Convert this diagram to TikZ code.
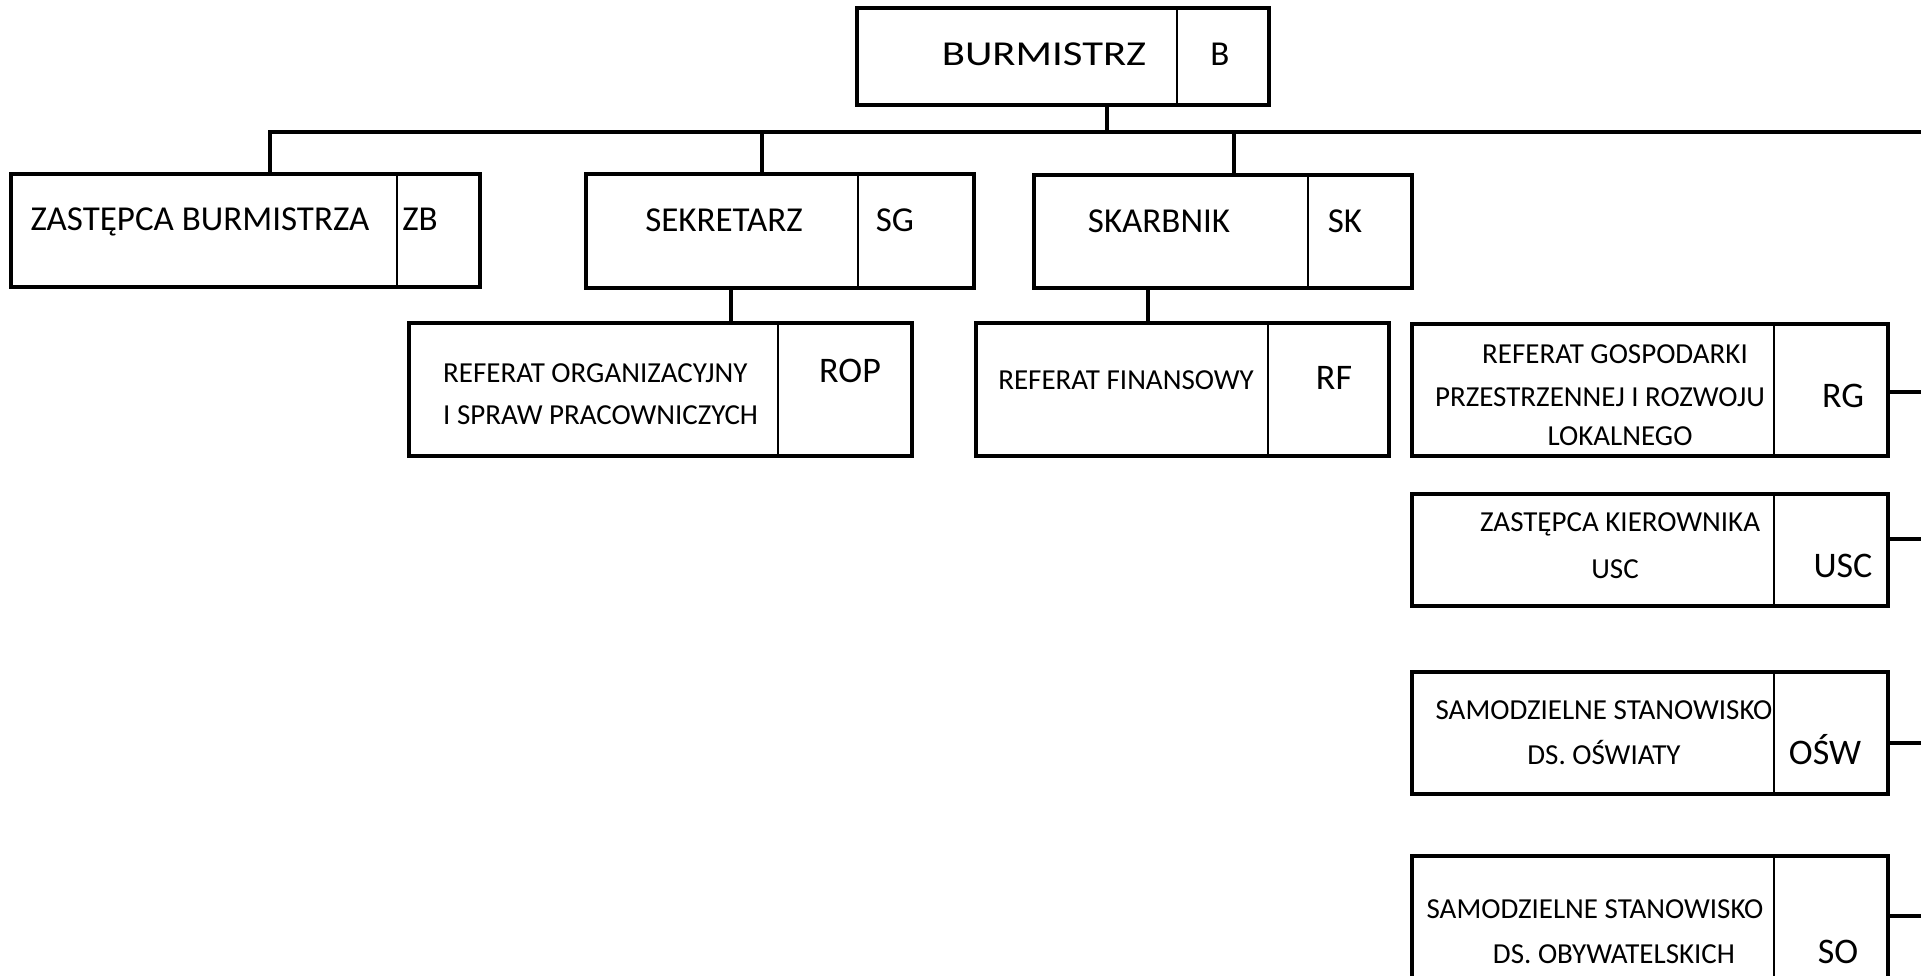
\documentclass[tikz,border=0pt]{standalone}
\usepackage{fontspec}
\setmainfont{Carlito}
\tikzset{
  box/.style={draw, line width=4pt, rectangle, inner sep=0pt, outer sep=0pt},
  divline/.style={line width=1.3pt},
  conn/.style={line width=3.5pt},
  bigtxt/.style={font=\fontsize{35}{42}\selectfont, anchor=base, inner sep=0pt},
  codetxt/.style={font=\fontsize{36}{42}\selectfont, anchor=base, inner sep=0pt},
  smalltxt/.style={font=\fontsize{29}{35}\selectfont, anchor=base, inner sep=0pt},
}
\newcommand\orgbox[6]{%
  \node[box, minimum width={#4-#2}, minimum height={#5-#3}] (#1) at ({(#2+#4)/2},{(#3+#5)/2}) {};
  \draw[divline] (#6,#3) -- (#6,#5);}
\begin{document}
\begin{tikzpicture}[x=1pt,y=-1pt]
\useasboundingbox (0,0) rectangle (1921,975);
% boxes
\orgbox{b}{857}{8}{1269}{105}{1177}
\orgbox{zb}{11}{174}{480}{287}{397}
\orgbox{sg}{586}{174}{974}{288}{858}
\orgbox{sk}{1034}{175}{1412}{288}{1308}
\orgbox{rop}{409}{323}{912}{456}{778}
\orgbox{rf}{976}{323}{1389}{456}{1268}
\orgbox{rg}{1412}{324}{1888}{456}{1774}
\orgbox{usc}{1412}{494}{1888}{606}{1774}
\orgbox{osw}{1412}{672}{1888}{794}{1774}
\orgbox{so}{1412}{856}{1888}{1010}{1774}
% texts
\node[bigtxt] (tb) at (1044,65) {\scalebox{1.22}[1]{BURMISTRZ}};
\node[bigtxt] (cb) at (1220,65) {B};
\node[bigtxt] (tzb) at (200,230) {ZASTĘPCA BURMISTRZA};
\node[bigtxt] (czb) at (420,230) {ZB};
\node[bigtxt] (tsg) at (724,231) {SEKRETARZ};
\node[bigtxt] (csg) at (895,231) {SG};
\node[bigtxt] (tsk) at (1159,232) {SKARBNIK};
\node[bigtxt] (csk) at (1345,232) {SK};
\node[smalltxt, anchor=base west] (trop1) at (443,382) {REFERAT ORGANIZACYJNY};
\node[smalltxt, anchor=base west] (trop2) at (443,424) {I SPRAW PRACOWNICZYCH};
\node[codetxt] (crop) at (850,382) {ROP};
\node[smalltxt] (trf) at (1126,389) {REFERAT FINANSOWY};
\node[codetxt] (crf) at (1334,389) {RF};
\node[smalltxt] (trg1) at (1615,363) {REFERAT GOSPODARKI};
\node[smalltxt] (trg2) at (1600,406) {PRZESTRZENNEJ I ROZWOJU};
\node[smalltxt] (trg3) at (1620,445) {LOKALNEGO};
\node[codetxt] (crg) at (1843,407) {RG};
\node[smalltxt] (tusc1) at (1620,531) {ZASTĘPCA KIEROWNIKA};
\node[smalltxt] (tusc2) at (1615,578) {USC};
\node[codetxt] (cusc) at (1843,577) {USC};
\node[smalltxt] (tosw1) at (1604,719) {SAMODZIELNE STANOWISKO};
\node[smalltxt] (tosw2) at (1604,764) {DS. OŚWIATY};
\node[codetxt] (cosw) at (1825,764) {OŚW};
\node[smalltxt] (tso1) at (1595,918) {SAMODZIELNE STANOWISKO};
\node[smalltxt] (tso2) at (1614,963) {DS. OBYWATELSKICH};
\node[codetxt] (cso) at (1838,963) {SO};
% connectors
\coordinate (busL) at (270,132);
\coordinate (busR) at (1921,132);
\draw[conn] (zb.north -| busL) -- (busL) -- (busR);
\draw[conn] (b.south -| 1107,0) -- (busL -| 1107,0);
\draw[conn] (sg.north -| 762,0) -- (busL -| 762,0);
\draw[conn] (sk.north -| 1234,0) -- (busL -| 1234,0);
\draw[conn] (sg.south -| 731,0) -- (rop.north -| 731,0);
\draw[conn] (sk.south -| 1148,0) -- (rf.north -| 1148,0);
\coordinate (rgR) at (1921,392);
\coordinate (uscR) at (1921,539);
\coordinate (oswR) at (1921,743);
\coordinate (soR) at (1921,916);
\draw[conn] (rg.east |- rgR) -- (rgR);
\draw[conn] (usc.east |- uscR) -- (uscR);
\draw[conn] (osw.east |- oswR) -- (oswR);
\draw[conn] (so.east |- soR) -- (soR);
\end{tikzpicture}
\end{document}
